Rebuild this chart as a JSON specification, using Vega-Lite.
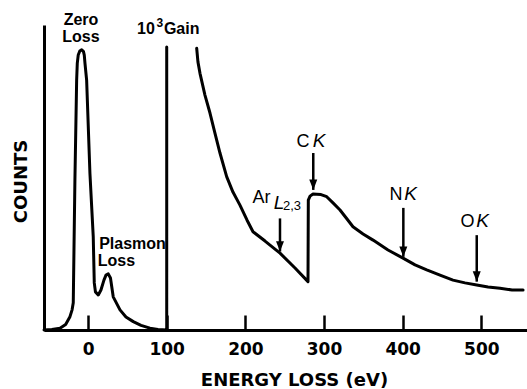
{
  "$schema": "https://vega.github.io/schema/vega-lite/v6.json",
  "width": 483,
  "height": 305,
  "autosize": {"type": "none"},
  "padding": {"left": 44, "top": 25, "right": 0, "bottom": 59},
  "background": "white",
  "config": {
    "view": {"stroke": null},
    "font": "DejaVu Sans"
  },
  "datasets": {
    "curve": [
      {"seg": "lowloss", "i": 1, "ev": -56, "counts": 0},
      {"seg": "lowloss", "i": 2, "ev": -46, "counts": 0.2},
      {"seg": "lowloss", "i": 3, "ev": -35.7, "counts": 0.6},
      {"seg": "lowloss", "i": 4, "ev": -28.5, "counts": 1.8},
      {"seg": "lowloss", "i": 5, "ev": -23, "counts": 4.3},
      {"seg": "lowloss", "i": 6, "ev": -20.3, "counts": 6.5},
      {"seg": "lowloss", "i": 7, "ev": -18.8, "counts": 8.8},
      {"seg": "lowloss", "i": 8, "ev": -17.9, "counts": 25.8},
      {"seg": "lowloss", "i": 9, "ev": -16.7, "counts": 48.4},
      {"seg": "lowloss", "i": 10, "ev": -14.5, "counts": 80.6},
      {"seg": "lowloss", "i": 11, "ev": -13.7, "counts": 86.0},
      {"seg": "lowloss", "i": 12, "ev": -12.5, "counts": 88.7},
      {"seg": "lowloss", "i": 13, "ev": -10.5, "counts": 90.0},
      {"seg": "lowloss", "i": 14, "ev": -8.1, "counts": 90.4},
      {"seg": "lowloss", "i": 15, "ev": -5.8, "counts": 89.8},
      {"seg": "lowloss", "i": 16, "ev": -4.8, "counts": 88.7},
      {"seg": "lowloss", "i": 17, "ev": -3.9, "counts": 86.0},
      {"seg": "lowloss", "i": 18, "ev": -1.8, "counts": 80.6},
      {"seg": "lowloss", "i": 19, "ev": 2.4, "counts": 50.5},
      {"seg": "lowloss", "i": 20, "ev": 6.6, "counts": 30.1},
      {"seg": "lowloss", "i": 21, "ev": 7.9, "counts": 15.2},
      {"seg": "lowloss", "i": 22, "ev": 9.4, "counts": 12.3},
      {"seg": "lowloss", "i": 23, "ev": 13.0, "counts": 11.3},
      {"seg": "lowloss", "i": 24, "ev": 16.4, "counts": 12.9},
      {"seg": "lowloss", "i": 25, "ev": 20.2, "counts": 16.1},
      {"seg": "lowloss", "i": 26, "ev": 22.8, "counts": 17.7},
      {"seg": "lowloss", "i": 27, "ev": 25.7, "counts": 18.1},
      {"seg": "lowloss", "i": 28, "ev": 28.5, "counts": 16.8},
      {"seg": "lowloss", "i": 29, "ev": 32.0, "counts": 10.7},
      {"seg": "lowloss", "i": 30, "ev": 40.6, "counts": 6.5},
      {"seg": "lowloss", "i": 31, "ev": 48.2, "counts": 4.2},
      {"seg": "lowloss", "i": 32, "ev": 57.5, "counts": 2.7},
      {"seg": "lowloss", "i": 33, "ev": 67.3, "counts": 1.5},
      {"seg": "lowloss", "i": 34, "ev": 78.7, "counts": 0.6},
      {"seg": "lowloss", "i": 35, "ev": 88.9, "counts": 0.2},
      {"seg": "lowloss", "i": 36, "ev": 100, "counts": 0},
      {"seg": "lowloss", "i": 37, "ev": 100, "counts": 91.3},
      {"seg": "gain", "i": 1, "ev": 138.1, "counts": 90.9},
      {"seg": "gain", "i": 2, "ev": 139.7, "counts": 86.5},
      {"seg": "gain", "i": 3, "ev": 142.3, "counts": 82.8},
      {"seg": "gain", "i": 4, "ev": 148.6, "counts": 75.8},
      {"seg": "gain", "i": 5, "ev": 155.0, "counts": 70.0},
      {"seg": "gain", "i": 6, "ev": 161.3, "counts": 63.5},
      {"seg": "gain", "i": 7, "ev": 167.7, "counts": 57.1},
      {"seg": "gain", "i": 8, "ev": 176.2, "counts": 49.5},
      {"seg": "gain", "i": 9, "ev": 184.2, "counts": 44.5},
      {"seg": "gain", "i": 10, "ev": 193.1, "counts": 40.3},
      {"seg": "gain", "i": 11, "ev": 202.0, "counts": 35.5},
      {"seg": "gain", "i": 12, "ev": 209.7, "counts": 31.7},
      {"seg": "gain", "i": 13, "ev": 225.0, "counts": 28.7},
      {"seg": "gain", "i": 14, "ev": 244.0, "counts": 24.8},
      {"seg": "gain", "i": 15, "ev": 263.1, "counts": 20.0},
      {"seg": "gain", "i": 16, "ev": 279.6, "counts": 15.6},
      {"seg": "gain", "i": 17, "ev": 280.0, "counts": 41.9},
      {"seg": "gain", "i": 18, "ev": 282.2, "counts": 43.2},
      {"seg": "gain", "i": 19, "ev": 286.0, "counts": 43.9},
      {"seg": "gain", "i": 20, "ev": 290.7, "counts": 43.8},
      {"seg": "gain", "i": 21, "ev": 296.1, "counts": 43.7},
      {"seg": "gain", "i": 22, "ev": 303.4, "counts": 43.0},
      {"seg": "gain", "i": 23, "ev": 311.4, "counts": 41.0},
      {"seg": "gain", "i": 24, "ev": 320.3, "counts": 38.7},
      {"seg": "gain", "i": 25, "ev": 329.2, "counts": 35.8},
      {"seg": "gain", "i": 26, "ev": 336.8, "counts": 33.3},
      {"seg": "gain", "i": 27, "ev": 349.6, "counts": 31.0},
      {"seg": "gain", "i": 28, "ev": 362.3, "counts": 29.0},
      {"seg": "gain", "i": 29, "ev": 381.3, "counts": 25.8},
      {"seg": "gain", "i": 30, "ev": 400.4, "counts": 23.2},
      {"seg": "gain", "i": 31, "ev": 415.7, "counts": 21.0},
      {"seg": "gain", "i": 32, "ev": 430.5, "counts": 19.4},
      {"seg": "gain", "i": 33, "ev": 447.4, "counts": 17.7},
      {"seg": "gain", "i": 34, "ev": 463.9, "counts": 16.1},
      {"seg": "gain", "i": 35, "ev": 479.2, "counts": 15.2},
      {"seg": "gain", "i": 36, "ev": 494.1, "counts": 14.5},
      {"seg": "gain", "i": 37, "ev": 508.5, "counts": 13.9},
      {"seg": "gain", "i": 38, "ev": 523.7, "counts": 13.5},
      {"seg": "gain", "i": 39, "ev": 539.0, "counts": 12.9},
      {"seg": "gain", "i": 40, "ev": 553.0, "counts": 12.9}
    ],
    "arrows": [
      {"edge": "Ar L2,3", "ev": 244.0, "from": 36.0, "to": 25.3},
      {"edge": "C K", "ev": 286.3, "from": 57.1, "to": 45.2},
      {"edge": "N K", "ev": 400.8, "from": 39.4, "to": 23.6},
      {"edge": "O K", "ev": 494.1, "from": 30.6, "to": 15.6}
    ],
    "boldLabels": [
      {"label": "Zero", "ev": -9.0, "counts": 98.4},
      {"label": "Loss", "ev": -9.0, "counts": 92.9},
      {"label": "Plasmon", "ev": 56.5, "counts": 26.1},
      {"label": "Loss", "ev": 36.1, "counts": 20.6},
      {"label": "10", "ev": 73.6, "counts": 95.5},
      {"label": "Gain", "ev": 119.0, "counts": 95.5}
    ],
    "superLabels": [
      {"label": "3", "ev": 91.4, "counts": 97.6}
    ],
    "uprightLabels": [
      {"label": "C", "ev": 273.2, "counts": 59.0},
      {"label": "N", "ev": 391.5, "counts": 41.9},
      {"label": "O", "ev": 482.4, "counts": 33.2},
      {"label": "Ar", "ev": 220.5, "counts": 41.0}
    ],
    "italicLabels": [
      {"label": "K", "ev": 293.6, "counts": 59.0},
      {"label": "K", "ev": 410.0, "counts": 41.9},
      {"label": "K", "ev": 501.4, "counts": 33.2},
      {"label": "L", "ev": 242.7, "counts": 39.0}
    ],
    "subLabels": [
      {"label": "2,3", "ev": 259.2, "counts": 38.7}
    ]
  },
  "layer": [
    {
      "data": {"name": "curve"},
      "mark": {"type": "line", "color": "black", "strokeWidth": 3, "strokeJoin": "round", "strokeCap": "round"},
      "encoding": {
        "x": {
          "field": "ev", "type": "quantitative",
          "scale": {"domain": [-56, 558], "nice": false, "zero": false},
          "axis": {
            "values": [0, 100, 200, 300, 400, 500],
            "grid": false,
            "domainColor": "black", "domainWidth": 3,
            "tickColor": "black", "tickWidth": 2.5, "tickSize": -15,
            "labelFont": "DejaVu Sans", "labelFontWeight": "bold", "labelFontSize": 17,
            "labelColor": "black", "labelPadding": 26,
            "title": "ENERGY LOSS (eV)",
            "titleFont": "DejaVu Sans", "titleFontWeight": "bold", "titleFontSize": 18,
            "titleColor": "black", "titleX": 250, "titleY": 55, "titleBaseline": "alphabetic"
          }
        },
        "y": {
          "field": "counts", "type": "quantitative",
          "scale": {"domain": [0, 98.4], "nice": false},
          "axis": {
            "ticks": false, "labels": false, "grid": false,
            "domainColor": "black", "domainWidth": 3,
            "title": "COUNTS",
            "titleFont": "DejaVu Sans", "titleFontWeight": "bold", "titleFontSize": 18,
            "titleColor": "black", "titleX": -18, "titleY": 156, "titleAngle": 270,
            "titleBaseline": "alphabetic", "titleAlign": "center"
          }
        },
        "detail": {"field": "seg"},
        "order": {"field": "i", "type": "quantitative"}
      }
    },
    {
      "data": {"name": "arrows"},
      "mark": {"type": "rule", "color": "black", "strokeWidth": 2.5},
      "encoding": {
        "x": {"field": "ev", "type": "quantitative"},
        "y": {"field": "from", "type": "quantitative"},
        "y2": {"field": "to"}
      }
    },
    {
      "data": {"name": "arrows"},
      "mark": {"type": "point", "shape": "M-0.5,-1.3L0.5,-1.3L0,0Z", "filled": true, "color": "black", "opacity": 1, "size": 256, "strokeWidth": 0},
      "encoding": {
        "x": {"field": "ev", "type": "quantitative"},
        "y": {"field": "to", "type": "quantitative"}
      }
    },
    {
      "data": {"name": "boldLabels"},
      "mark": {"type": "text", "font": "Liberation Sans", "fontWeight": "bold", "fontSize": 16, "color": "black", "align": "center", "baseline": "alphabetic"},
      "encoding": {
        "x": {"field": "ev", "type": "quantitative"},
        "y": {"field": "counts", "type": "quantitative"},
        "text": {"field": "label"}
      }
    },
    {
      "data": {"name": "superLabels"},
      "mark": {"type": "text", "font": "Liberation Sans", "fontWeight": "bold", "fontSize": 12, "color": "black", "align": "center", "baseline": "alphabetic"},
      "encoding": {
        "x": {"field": "ev", "type": "quantitative"},
        "y": {"field": "counts", "type": "quantitative"},
        "text": {"field": "label"}
      }
    },
    {
      "data": {"name": "uprightLabels"},
      "mark": {"type": "text", "font": "Liberation Sans", "fontSize": 18, "color": "black", "align": "center", "baseline": "alphabetic"},
      "encoding": {
        "x": {"field": "ev", "type": "quantitative"},
        "y": {"field": "counts", "type": "quantitative"},
        "text": {"field": "label"}
      }
    },
    {
      "data": {"name": "italicLabels"},
      "mark": {"type": "text", "font": "Liberation Sans", "fontStyle": "italic", "fontSize": 19, "color": "black", "align": "center", "baseline": "alphabetic"},
      "encoding": {
        "x": {"field": "ev", "type": "quantitative"},
        "y": {"field": "counts", "type": "quantitative"},
        "text": {"field": "label"}
      }
    },
    {
      "data": {"name": "subLabels"},
      "mark": {"type": "text", "font": "Liberation Sans", "fontSize": 13, "color": "black", "align": "center", "baseline": "alphabetic"},
      "encoding": {
        "x": {"field": "ev", "type": "quantitative"},
        "y": {"field": "counts", "type": "quantitative"},
        "text": {"field": "label"}
      }
    }
  ]
}
